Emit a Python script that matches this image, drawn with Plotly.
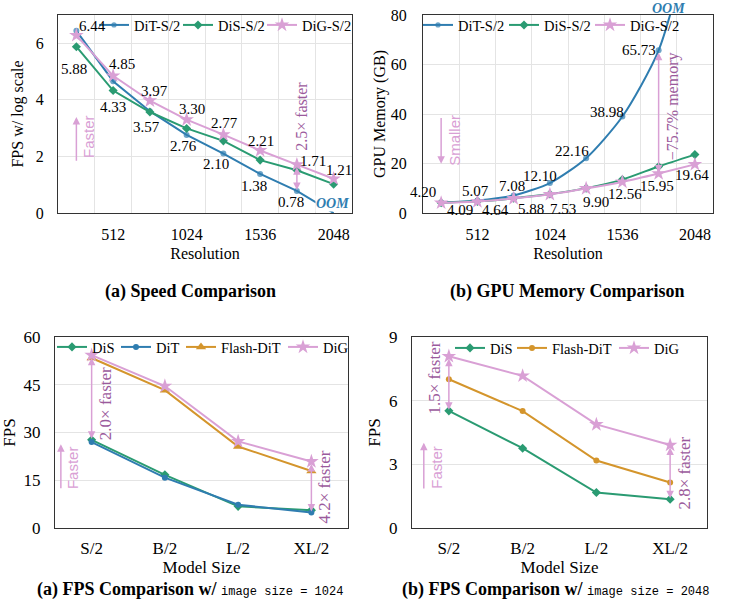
import plotly.graph_objects as go

# ---------------- data ----------------
resolution = [256, 512, 768, 1024, 1280, 1536, 1792, 2048]
res_ticks = [512, 1024, 1536, 2048]
res_grid = [384, 640, 896, 1152, 1408, 1664, 1920]

# (a) Speed comparison, FPS w/ log scale ; DiT runs out of memory at 2048 (line runs to axis)
fps_dit_s2 = [6.44, 4.66, 3.60, 2.76, 2.10, 1.38, 0.78, 0.0]
fps_dis_s2 = [5.88, 4.33, 3.57, 2.99, 2.55, 1.87, 1.51, 1.02]
fps_dig_s2 = [6.28, 4.85, 3.97, 3.30, 2.77, 2.21, 1.71, 1.21]

# (b) GPU memory (GB) ; DiT OOM at 2048 (line runs off the top)
mem_dit_s2 = [4.20, 5.07, 7.08, 12.10, 22.16, 38.98, 65.73, 118.0]
mem_dis_s2 = [4.12, 4.70, 5.95, 7.65, 10.05, 13.50, 18.80, 23.60]
mem_dig_s2 = [4.09, 4.64, 5.88, 7.53, 9.90, 12.56, 15.95, 19.64]

model_sizes = ["S/2", "B/2", "L/2", "XL/2"]
fps1024_dis = [27.7, 16.7, 6.8, 5.6]
fps1024_dit = [27.0, 15.8, 7.3, 4.9]
fps1024_flash = [53.4, 43.3, 25.6, 17.9]
fps1024_dig = [54.3, 44.6, 27.2, 20.9]

fps2048_dis = [5.52, 3.76, 1.67, 1.36]
fps2048_flash = [7.01, 5.51, 3.18, 2.14]
fps2048_dig = [8.09, 7.17, 4.88, 3.91]

# ---------------- style ----------------
SERIF = "Liberation Serif"
SANS = "Liberation Sans"
MONO = "Liberation Mono"
BLUE = "#2f7db0"
GREEN = "#2a9b72"
PINK = "#d9a0d5"
PURPLE = "#9b5a9c"
ORANGE = "#d4952c"
GRID = "#e4e4e4"
W, H = 729, 606

def px_x(p):
    return p / W

def px_y(p):
    return 1 - p / H

fig = go.Figure()
legends = {}

def add(x, y, name, color, symbol, size, xa, ya, leg_pos, shape="linear"):
    key = "legend" if not legends else f"legend{len(legends) + 1}"
    lx, ly = leg_pos
    legends[key] = dict(orientation="h", x=px_x(lx), y=px_y(ly), xanchor="left", yanchor="middle",
                        bgcolor="rgba(255,255,255,0)", borderwidth=0, itemwidth=30,
                        font=dict(family=SERIF, size=14.5, color="black"),
                        itemclick=False, itemdoubleclick=False)
    fig.add_trace(go.Scatter(
        x=x, y=y, name=name, mode="lines+markers",
        line=dict(color=color, width=2, shape=shape, smoothing=0.7 if shape == "spline" else None),
        marker=dict(symbol=symbol, size=size, color=color, line=dict(width=0)),
        xaxis=xa, yaxis=ya, legend=key, hoverinfo="skip"))

oom_sizes_c = [6] * (len(resolution) - 1) + [0]

add(resolution, fps_dit_s2, "DiT-S/2", BLUE, "circle", oom_sizes_c, "x", "y", (94, 25))
add(resolution, fps_dis_s2, "DiS-S/2", GREEN, "diamond", 7, "x", "y", (178, 25))
add(resolution, fps_dig_s2, "DiG-S/2", PINK, "star", 11, "x", "y", (262, 25))

add(resolution, mem_dit_s2, "DiT-S/2", BLUE, "circle", oom_sizes_c, "x2", "y2", (418, 25), "spline")
add(resolution, mem_dis_s2, "DiS-S/2", GREEN, "diamond", 7, "x2", "y2", (504, 25), "spline")
add(resolution, mem_dig_s2, "DiG-S/2", PINK, "star", 11, "x2", "y2", (590, 25), "spline")

add(model_sizes, fps1024_dis, "DiS", GREEN, "diamond", 7, "x3", "y3", (52, 347))
add(model_sizes, fps1024_dit, "DiT", BLUE, "circle", 6, "x3", "y3", (116, 347))
add(model_sizes, fps1024_flash, "Flash-DiT", ORANGE, "triangle-up", 9, "x3", "y3", (181, 347))
add(model_sizes, fps1024_dig, "DiG", PINK, "star", 11, "x3", "y3", (283, 347))

add(model_sizes, fps2048_dis, "DiS", GREEN, "diamond", 7, "x4", "y4", (450, 348))
add(model_sizes, fps2048_flash, "Flash-DiT", ORANGE, "circle", 6, "x4", "y4", (512, 348))
add(model_sizes, fps2048_dig, "DiG", PINK, "star", 11, "x4", "y4", (614, 348))

# ---------------- axes ----------------
def ax(**kw):
    base = dict(showline=True, mirror=True, linecolor="#333333", linewidth=1,
                ticks="", zeroline=False, automargin=False,
                tickfont=dict(family=SERIF, size=16, color="black"),
                title_font=dict(family=SERIF, size=16, color="black"))
    base.update(kw)
    return base

res_x = dict(range=[128, 2176], tickmode="array", tickvals=res_ticks, showgrid=False,
             minor=dict(tickmode="array", tickvals=res_grid, showgrid=True, gridcolor=GRID,
                        gridwidth=1, ticks=""),
             ticklabelstandoff=7)

fig.update_layout(
    xaxis=ax(domain=[px_x(58), px_x(352)], anchor="y", title=dict(text="Resolution", standoff=5), **res_x),
    yaxis=ax(domain=[px_y(213), px_y(15)], anchor="x", range=[0, 7], tickvals=[0, 2, 4, 6],
             showgrid=True, gridcolor=GRID, ticklabelstandoff=10,
             title=dict(text="FPS w/ log scale", standoff=8)),
    xaxis2=ax(domain=[px_x(423), px_x(713)], anchor="y2", title=dict(text="Resolution", standoff=5), **res_x),
    yaxis2=ax(domain=[px_y(213), px_y(15)], anchor="x2", range=[0, 80], tickvals=[0, 20, 40, 60, 80],
              showgrid=True, gridcolor=GRID, ticklabelstandoff=12,
              title=dict(text="GPU Memory (GB)", standoff=1)),
    xaxis3=ax(domain=[px_x(55), px_x(348)], anchor="y3", type="category", range=[-0.5, 3.5],
              categoryorder="array", categoryarray=model_sizes, showgrid=False, ticklabelstandoff=5,
              tickfont=dict(family=SERIF, size=17, color="black"),
              title=dict(text="Model Size", standoff=0, font=dict(family=SERIF, size=17))),
    yaxis3=ax(domain=[px_y(528), px_y(337)], anchor="x3", range=[0, 60], tickvals=[0, 15, 30, 45, 60],
              showgrid=True, gridcolor=GRID, ticklabelstandoff=10,
              tickfont=dict(family=SERIF, size=17, color="black"),
              title=dict(text="FPS", standoff=3, font=dict(family=SERIF, size=17))),
    xaxis4=ax(domain=[px_x(412), px_x(707)], anchor="y4", type="category", range=[-0.5, 3.5],
              categoryorder="array", categoryarray=model_sizes, showgrid=False, ticklabelstandoff=5,
              tickfont=dict(family=SERIF, size=17, color="black"),
              title=dict(text="Model Size", standoff=0, font=dict(family=SERIF, size=17))),
    yaxis4=ax(domain=[px_y(528), px_y(337)], anchor="x4", range=[0, 9], tickvals=[0, 3, 6, 9],
              showgrid=True, gridcolor=GRID, ticklabelstandoff=10,
              tickfont=dict(family=SERIF, size=17, color="black"),
              title=dict(text="FPS", standoff=4, font=dict(family=SERIF, size=17))),
)
fig.update_layout(**legends)

# ---------------- annotations ----------------
ann = []

def num_labels(xs, ys, specs, xref, yref):
    for i, dx, dy in specs:
        ann.append(dict(x=xs[i], y=ys[i], xref=xref, yref=yref, text=f"{ys[i]:.2f}",
                        showarrow=False, xshift=dx, yshift=dy,
                        font=dict(family=SERIF, size=15, color="black")))

num_labels(resolution, fps_dit_s2, [(0, 16, 5), (3, -3, -11), (4, -7, -10), (5, -6, -12), (6, -6, -11)], "x", "y")
num_labels(resolution, fps_dis_s2, [(0, -2, -22), (1, 0, -16), (2, -3, -15)], "x", "y")
num_labels(resolution, fps_dig_s2, [(1, 9, 12), (2, 5, 10), (3, 5, 11), (4, 1, 12), (5, 1, 9), (6, 16, 4), (7, 5, 9)], "x", "y")

num_labels(resolution, mem_dit_s2, [(0, -18, 11), (1, -2, 9), (2, -2, 9), (3, -10, 7), (4, -14, 7), (5, -15, 5), (6, -20, 0)], "x2", "y2")
num_labels(resolution, mem_dig_s2, [(0, 19, -7), (1, 18, -8), (2, 17, -11), (3, 13, -15), (4, 10, -13), (5, 3, -12), (6, -2, -12), (7, -3, -11)], "x2", "y2")

def arrow(x, y_head, y_tail, xref, yref, color, both=False):
    d = dict(x=x, y=y_head, ax=x, ay=y_tail, xref=xref, yref=yref, axref=xref, ayref=yref,
             text="", showarrow=True, arrowhead=2, arrowsize=1, arrowwidth=1.5,
             arrowcolor=color, standoff=1)
    if both:
        d.update(arrowside="end+start", startarrowhead=2, startarrowsize=1, startstandoff=1)
    ann.append(d)

def vtext(x, y, text, xref, yref, color, family=SERIF, size=16, xshift=0):
    ann.append(dict(x=x, y=y, xref=xref, yref=yref, text=text, textangle=-90, showarrow=False,
                    xshift=xshift, font=dict(family=family, size=size, color=color)))

# speed panel
arrow(resolution[6], fps_dit_s2[6], fps_dig_s2[6], "x", "y", PINK, both=True)
vtext(resolution[6], 3.43, "2.5× faster", "x", "y", PURPLE, xshift=5)
arrow(resolution[0], 3.43, 1.79, "x", "y", PINK)
vtext(resolution[0], 2.7, "Faster", "x", "y", PINK, SANS, 15, xshift=12)
ann.append(dict(x=resolution[7], y=0, xref="x", yref="y", text="<b><i>OOM</i></b>", showarrow=False,
                xanchor="center", yanchor="bottom", xshift=-1, yshift=1, bgcolor="white", borderpad=0,
                font=dict(family=SERIF, size=14, color=BLUE)))

# memory panel
arrow(resolution[6], mem_dig_s2[6], mem_dit_s2[6], "x2", "y2", PINK, both=True)
vtext(resolution[6], 43, "\u221275.7% memory", "x2", "y2", PURPLE, xshift=14)
arrow(resolution[0], 19.5, 39, "x2", "y2", PINK)
vtext(resolution[0], 29.2, "Smaller", "x2", "y2", PINK, SANS, 15, xshift=14)
ann.append(dict(x=resolution[6], y=80, xref="x2", yref="y2", text="<b><i>OOM</i></b>", showarrow=False,
                xanchor="center", yanchor="bottom", xshift=10, yshift=-3,
                font=dict(family=SERIF, size=14, color=BLUE)))

# FPS @1024
arrow(0, fps1024_dis[0], fps1024_dig[0], "x3", "y3", PINK, both=True)
vtext(0.2, 39, "2.0× faster", "x3", "y3", PURPLE, size=17)
arrow(3, fps1024_dit[3], fps1024_dig[3], "x3", "y3", PINK, both=True)
vtext(3.18, 12.9, "4.2× faster", "x3", "y3", PURPLE, size=17)
arrow(-0.42, 26.6, 12, "x3", "y3", PINK)
vtext(-0.26, 19, "Faster", "x3", "y3", PINK, SANS, 15)

# FPS @2048
arrow(0, fps2048_dis[0], fps2048_dig[0], "x4", "y4", PINK, both=True)
vtext(-0.2, 7.05, "1.5× faster", "x4", "y4", PURPLE, size=17)
arrow(3, fps2048_dis[3], fps2048_dig[3], "x4", "y4", PINK, both=True)
vtext(3.19, 2.57, "2.8× faster", "x4", "y4", PURPLE, size=17)
arrow(-0.34, 4.07, 1.79, "x4", "y4", PINK)
vtext(-0.18, 2.87, "Faster", "x4", "y4", PINK, SANS, 15)

# captions
def caption(xp, yp, text):
    ann.append(dict(x=px_x(xp), y=px_y(yp), xref="paper", yref="paper", text=text, showarrow=False,
                    xanchor="center", yanchor="middle", font=dict(family=SERIF, size=18, color="black")))

caption(190, 291, "<b>(a) Speed Comparison</b>")
caption(567, 291, "<b>(b) GPU Memory Comparison</b>")
mono = "<span style='font-family:" + MONO + ";font-size:12px;font-weight:normal'>image size = {}</span>"
caption(190, 589, "<b>(a) FPS Comparison w/</b> " + mono.format(1024))
caption(555, 589, "<b>(b) FPS Comparison w/</b> " + mono.format(2048))

fig.update_layout(
    template="none",
    annotations=ann,
    width=W, height=H,
    margin=dict(l=0, r=0, t=0, b=0, autoexpand=False),
    paper_bgcolor="white", plot_bgcolor="white",
    showlegend=True,
    font=dict(family=SERIF, color="black"),
)

fig.write_html("out.html", config={"displayModeBar": False},
               post_script="document.body.style.margin='0';")
